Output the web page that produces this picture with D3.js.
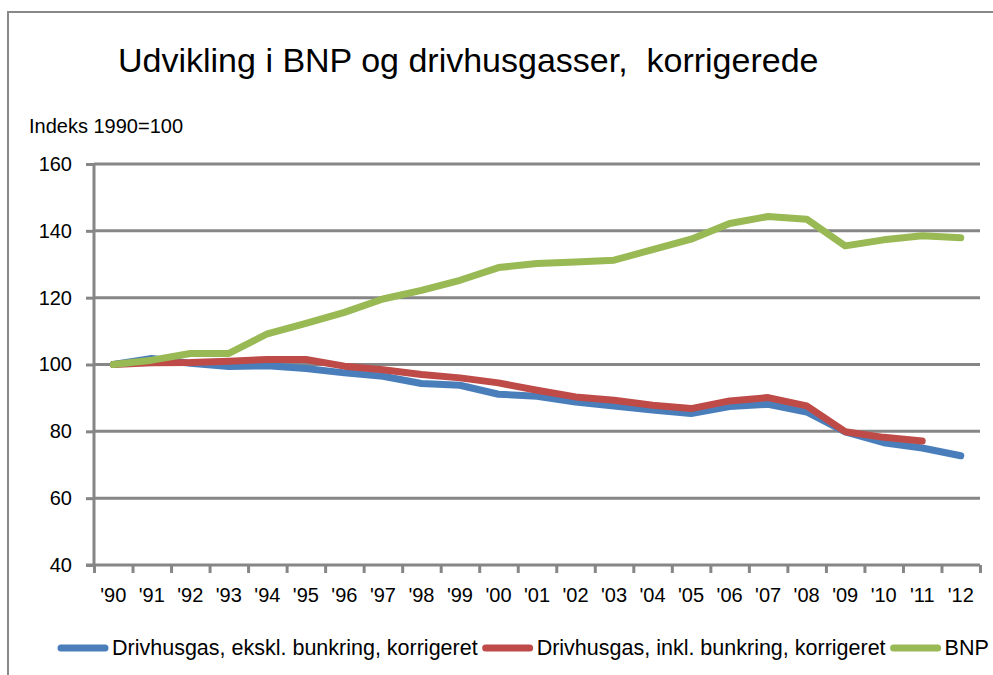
<!DOCTYPE html>
<html>
<head>
<meta charset="utf-8">
<script src="https://cdn.jsdelivr.net/npm/d3@7"></script>
<style>
  body { margin: 0; background: #fff; }
  svg { display: block; font-family: "Liberation Sans", Arial, sans-serif; }
</style>
</head>
<body>
<div id="chart"></div>
<script>
// data (index 1990 = 100)
const years = ["'90","'91","'92","'93","'94","'95","'96","'97","'98","'99","'00","'01","'02","'03","'04","'05","'06","'07","'08","'09","'10","'11","'12"];
const ekskl = [100, 101.8, 100.4, 99.4, 99.6, 98.8, 97.5, 96.5, 94.3, 93.8, 91.1, 90.5, 88.8, 87.6, 86.4, 85.3, 87.4, 88.1, 85.8, 79.8, 76.6, 75.0, 72.7];
const inkl = [100, 100.5, 100.6, 101.0, 101.5, 101.5, 99.5, 98.4, 97.0, 96.0, 94.5, 92.3, 90.3, 89.3, 87.8, 86.8, 89.1, 90.1, 87.6, 79.9, 78.2, 77.1];
const bnp = [100, 101.3, 103.3, 103.3, 109.2, 112.3, 115.6, 119.6, 122.2, 125.2, 129.0, 130.2, 130.7, 131.2, 134.4, 137.5, 142.2, 144.3, 143.5, 135.5, 137.3, 138.5, 137.9];
const yTicks = [40, 60, 80, 100, 120, 140, 160];

const series = [
  { name: "Drivhusgas, ekskl. bunkring, korrigeret", values: ekskl, color: "#4a7ebb" },
  { name: "Drivhusgas, inkl. bunkring, korrigeret", values: inkl, color: "#be4b48" },
  { name: "BNP", values: bnp, color: "#98b954" }
];

const width = 993, height = 675;
const plotLeft = 94, plotRight = 980, plotTop = 164, plotBottom = 565;
const grey = "#868686";

const svg = d3.select("#chart").append("svg")
  .attr("width", width).attr("height", height);

// outer frame (runs off the right and bottom edge like the reference)
svg.append("rect")
  .attr("x", 8).attr("y", 12)
  .attr("width", 1000).attr("height", 700)
  .attr("fill", "none").attr("stroke", "#898989").attr("stroke-width", 2);

svg.append("text")
  .attr("x", 118).attr("y", 72)
  .attr("font-size", 34)
  .style("white-space", "pre")
  .text("Udvikling i BNP og drivhusgasser,  korrigerede");

svg.append("text")
  .attr("x", 29).attr("y", 133)
  .attr("font-size", 20)
  .text("Indeks 1990=100");

const x = d3.scaleBand().domain(years).range([plotLeft, plotRight]);
const xi = d3.scaleLinear().domain([0, years.length]).range([plotLeft, plotRight]);
const y = d3.scaleLinear().domain([40, 160]).range([plotBottom, plotTop]);

// gridlines
svg.append("g")
  .selectAll("line")
  .data(yTicks.slice(1))
  .join("line")
  .attr("x1", plotLeft).attr("x2", plotRight)
  .attr("y1", d => y(d)).attr("y2", d => y(d))
  .attr("stroke", grey).attr("stroke-width", 3);

// y axis
const yAxis = svg.append("g")
  .attr("transform", `translate(${plotLeft},0)`)
  .call(d3.axisLeft(y).tickValues(yTicks).tickSize(8).tickPadding(14));
yAxis.selectAll("line").attr("stroke", grey).attr("stroke-width", 3);
yAxis.select(".domain").attr("stroke", grey).attr("stroke-width", 3).attr("d", `M0,${plotTop}V${plotBottom}`);
yAxis.selectAll("text").attr("font-size", 20).attr("fill", "#000").attr("font-family", null);

// x axis: ticks between categories, labels centred
const xTicks = svg.append("g")
  .attr("transform", `translate(0,${plotBottom})`)
  .call(d3.axisBottom(xi).tickValues(d3.range(years.length + 1)).tickSize(8).tickFormat(""));
xTicks.selectAll("line").attr("stroke", grey).attr("stroke-width", 3);
xTicks.select(".domain").attr("stroke", grey).attr("stroke-width", 3).attr("d", `M${plotLeft - 8},0H${plotRight}`);

const xLabels = svg.append("g")
  .attr("transform", `translate(0,${plotBottom})`)
  .call(d3.axisBottom(x).tickSize(0).tickPadding(23));
xLabels.select(".domain").remove();
xLabels.selectAll("text").attr("font-size", 20).attr("fill", "#000").attr("font-family", null);

// lines
const line = d3.line()
  .x((d, i) => x(years[i]) + x.bandwidth() / 2)
  .y(d => y(d));

svg.append("g")
  .selectAll("path")
  .data(series)
  .join("path")
  .attr("d", d => line(d.values))
  .attr("fill", "none")
  .attr("stroke", d => d.color)
  .attr("stroke-width", 7)
  .attr("stroke-linejoin", "round")
  .attr("stroke-linecap", "round");

// legend
const legend = svg.append("g").attr("transform", "translate(0,648)");
let lx = 61;
series.forEach(s => {
  legend.append("line")
    .attr("x1", lx).attr("x2", lx + 44)
    .attr("stroke", s.color).attr("stroke-width", 7).attr("stroke-linecap", "round");
  const t = legend.append("text")
    .attr("x", lx + 51).attr("y", 7)
    .attr("font-size", 21.5)
    .text(s.name);
  lx += 51 + t.node().getComputedTextLength() + 8;
});
</script>
</body>
</html>
